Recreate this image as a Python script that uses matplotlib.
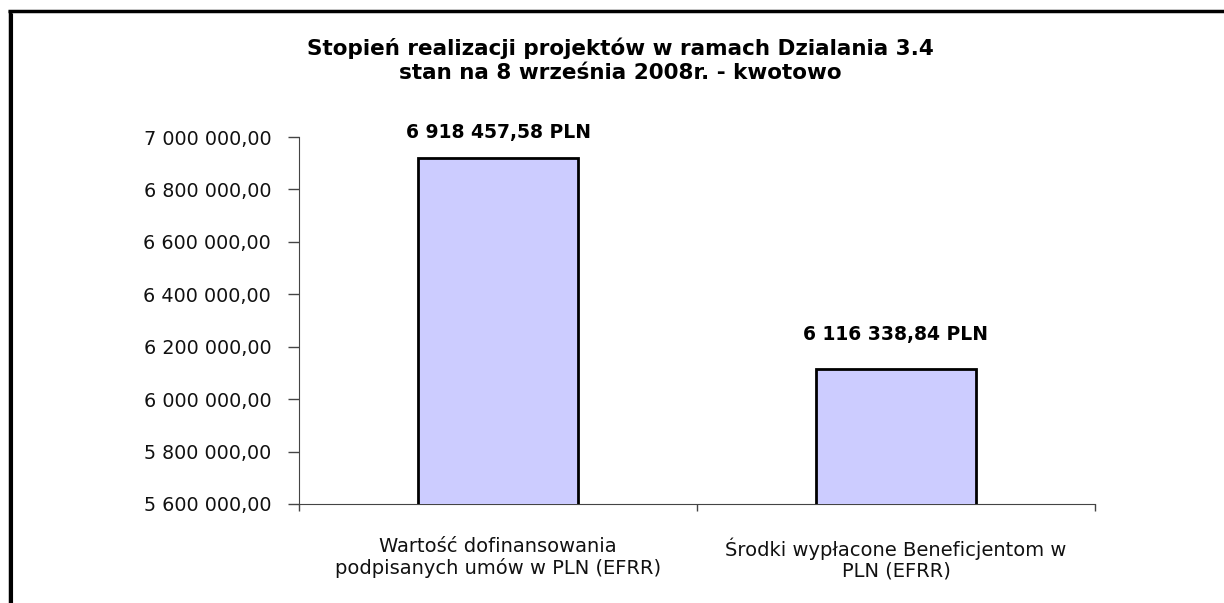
import matplotlib.pyplot as plt
from matplotlib.lines import Line2D
from matplotlib.ticker import FuncFormatter

plt.rcParams['font.family'] = ['DejaVu Sans']

categories = ["Wartość dofinansowania\npodpisanych umów w PLN (EFRR)",
              "Środki wypłacone Beneficjentom w\nPLN (EFRR)"]
values = [6918457.58, 6116338.84]
value_labels = ["6 918 457,58 PLN", "6 116 338,84 PLN"]
title = "Stopień realizacji projektów w ramach Dzialania 3.4\nstan na 8 września 2008r. - kwotowo"


def pl_format(v, pos=None):
    s = f"{v:,.2f}"
    return s.replace(",", " ").replace(".", ",")


fig = plt.figure(figsize=(12.24, 6.03), dpi=100)
ax = fig.add_axes([0.2443, 0.1642, 0.6503, 0.6086])

x = list(range(len(values)))
ax.bar(x, values, width=0.4, color="#CCCCFF", edgecolor="black", linewidth=2, zorder=3)
ax.set_xlim(-0.5, 1.5)
ax.set_ylim(5600000, 7000000)
ax.set_yticks([5600000 + 200000 * i for i in range(8)])
ax.yaxis.set_major_formatter(FuncFormatter(pl_format))

# category labels between boundary ticks
ax.set_xticks([-0.5, 0.5, 1.5])
ax.set_xticklabels([])
ax.set_xticks(x, minor=True)
ax.set_xticklabels(categories, minor=True, fontsize=14, color="#111111", linespacing=1.08)
ax.tick_params(axis="x", which="minor", length=0, pad=24)
ax.tick_params(axis="x", which="major", length=5, width=1, color="#444444")
ax.tick_params(axis="y", length=8, width=1, color="#444444", labelsize=13.8, pad=12,
               labelcolor="#111111")

for side in ["top", "right"]:
    ax.spines[side].set_visible(False)
ax.spines["left"].set_color("#444444")
ax.spines["bottom"].set_color("#444444")

offsets = [12, 18]
for xi, v, lab, off in zip(x, values, value_labels, offsets):
    ax.annotate(lab, (xi, v), xytext=(0, off), textcoords="offset points",
                ha="center", va="bottom", fontsize=13.5, fontweight="bold")

fig.text(0.507, 0.9, title, ha="center", va="center", fontsize=15.5,
         fontweight="bold", linespacing=1.3)

# frame lines (top and left)
fig.add_artist(Line2D([0.0065, 1.0], [0.981, 0.981], color="black", linewidth=2.5,
                      solid_capstyle="butt", transform=fig.transFigure))
fig.add_artist(Line2D([0.0078, 0.0078], [0.0, 0.983], color="black", linewidth=2.5,
                      solid_capstyle="butt", transform=fig.transFigure))
fig.add_artist(Line2D([0.0100, 0.0100], [0.0, 0.979], color="black", linewidth=0.8,
                      solid_capstyle="butt", transform=fig.transFigure))

fig.savefig("out.png", dpi=100, facecolor="white")
